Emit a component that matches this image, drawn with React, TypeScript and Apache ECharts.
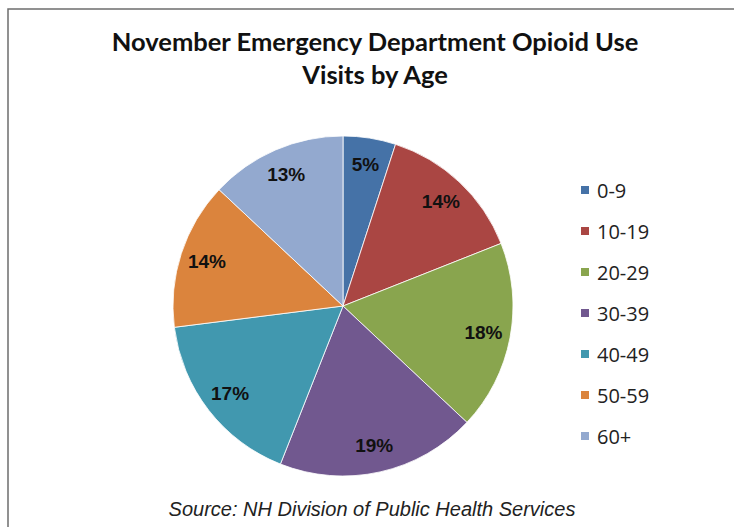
import React, { useEffect, useRef } from "react";
import * as echarts from "echarts";

const titleText = "November Emergency Department Opioid Use\nVisits by Age";
const sourceText = "Source: NH Division of Public Health Services";
const ageGroups = ["0-9", "10-19", "20-29", "30-39", "40-49", "50-59", "60+"];
const percents = [5, 14, 18, 19, 17, 14, 13];
const sliceColors = ["#4572A7", "#AA4643", "#89A54E", "#71588F", "#4198AF", "#DB843D", "#93A9CF"];

export default function App() {
  const ref = useRef<HTMLDivElement>(null);
  useEffect(() => {
    if (!ref.current) return;
    const chart = echarts.init(ref.current, undefined, { renderer: "svg" });
    const data = ageGroups.map((n, i) => ({ name: n, value: percents[i], itemStyle: { color: sliceColors[i] } }));
    const labelData = ageGroups.map((n, i) => ({ name: n, value: percents[i] }));
    chart.setOption({
      animation: false,
      backgroundColor: "#ffffff",
      title: [
        {
          text: titleText,
          left: 375,
          textAlign: "center",
          top: 24,
          padding: 0,
          textStyle: { fontFamily: "Lato", fontWeight: "bold", fontSize: 25.5, lineHeight: 33, color: "#111" },
        },
        {
          text: sourceText,
          left: 372,
          textAlign: "center",
          top: 499,
          padding: 0,
          textStyle: { fontFamily: "Liberation Sans", fontStyle: "italic", fontWeight: "normal", fontSize: 20, color: "#222" },
        },
      ],
      legend: {
        orient: "vertical",
        left: 579,
        top: 180,
        padding: 0,
        icon: "rect",
        itemWidth: 10,
        itemHeight: 10,
        itemGap: 21,
        data: ageGroups.map((n, i) => ({ name: n, itemStyle: { color: sliceColors[i] } })),
        textStyle: { fontFamily: "Open Sans", fontSize: 20, lineHeight: 20, color: "#222", padding: [0, 0, 0, 2] },
      },
      graphic: [
        {
          type: "rect",
          shape: { x: 8, y: 9, width: 900, height: 700 },
          style: { fill: "none", stroke: "#6e6e6e", lineWidth: 1.5 },
          silent: true,
        },
      ],
      series: [
        {
          type: "pie",
          center: [343, 306],
          radius: [0, 170],
          startAngle: 90,
          clockwise: true,
          label: { show: false },
          labelLine: { show: false },
          itemStyle: { borderColor: "#ffffff", borderWidth: 0.8 },
          emphasis: { disabled: true },
          data,
        },
        {
          type: "pie",
          center: [343, 306],
          radius: [110, 170],
          startAngle: 90,
          clockwise: true,
          silent: true,
          itemStyle: { color: "transparent" },
          emphasis: { disabled: true },
          label: {
            show: true,
            position: "inside",
            formatter: "{c}%",
            fontFamily: "Liberation Sans",
            fontWeight: "bold",
            fontSize: 19,
            color: "#111",
          },
          labelLine: { show: false },
          data: labelData,
        },
      ],
    });
    return () => chart.dispose();
  }, []);
  return <div ref={ref} style={{ position: "fixed", left: 0, top: 0, width: 734, height: 527 }} />;
}
